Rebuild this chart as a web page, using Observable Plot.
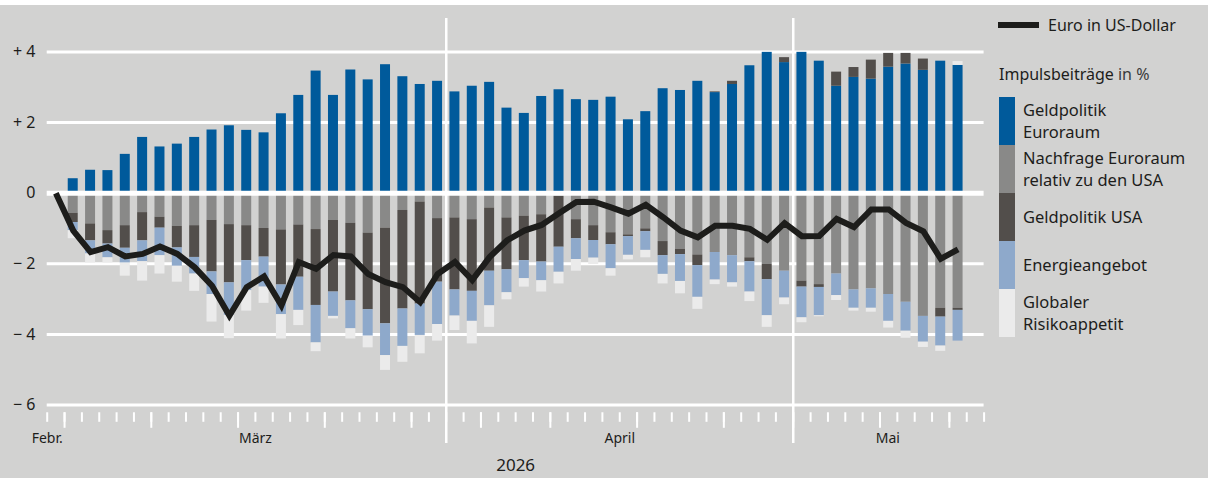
<!DOCTYPE html>
<html>
<head>
<meta charset="utf-8">
<script src="https://cdn.jsdelivr.net/npm/d3@7"></script>
<script src="https://cdn.jsdelivr.net/npm/@observablehq/plot@0.6"></script>
<style>
  html, body { margin: 0; padding: 0; background: #ffffff; }
  #wrap { position: relative; width: 1213px; height: 478px; font-family: "Noto Sans", sans-serif; color: #1d1d1b; }
  #bg { position: absolute; left: 0; top: 5px; width: 1208px; height: 473px; background: #d2d2d1; }
  #chart { position: absolute; left: 0; top: 0; }
  #legend { position: absolute; left: 998px; top: 0; width: 215px; }
  .lline { position: absolute; top: 22px; left: 0; width: 41px; height: 6px; background: #1d1d1b; }
  .ltext { position: absolute; left: 50px; top: 13px; font-size: 16px; line-height: 24px; white-space: nowrap; }
  .lhead { position: absolute; left: 1px; top: 62px; font-size: 16px; line-height: 24px; white-space: nowrap; }
  .lhead .unit { color: #3a3a3a; }
  .items { position: absolute; left: 1px; top: 96.7px; }
  .item { display: flex; align-items: center; height: 48px; }
  .sw { width: 16px; height: 48px; flex: none; }
  .lab { margin-left: 8px; font-size: 16.5px; line-height: 21.5px; white-space: pre; }
</style>
</head>
<body>
<div id="wrap">
  <div id="bg"></div>
  <div id="chart"></div>
  <div id="legend"></div>
</div>
<script>
// ---- data ----
const legendLabels = ["Geldpolitik\nEuroraum", "Nachfrage Euroraum\nrelativ zu den USA", "Geldpolitik USA", "Energieangebot", "Globaler\nRisikoappetit"];
const seriesNames = legendLabels.map(s => s.replace("\n", " "));
const seriesColors = ["#005a9b", "#898988", "#524e4b", "#8ea9cb", "#ebebeb"];

// contributions, one value per trading-day slot 1..52 (in %)
const geldpolitikEuroraum = [0.41,0.65,0.64,1.10,1.58,1.31,1.39,1.58,1.79,1.91,1.78,1.71,2.25,2.77,3.46,2.77,3.49,3.21,3.64,3.30,3.08,3.17,2.87,3.03,3.14,2.41,2.26,2.74,2.93,2.65,2.63,2.72,2.08,2.31,2.96,2.91,3.17,2.85,3.08,3.61,3.99,3.70,3.99,3.74,3.03,3.28,3.23,3.57,3.66,3.48,3.74,3.62];
const nachfrageEuroraum = [-0.57,-0.87,-1.06,-0.92,-0.55,-0.68,-0.94,-0.92,-0.77,-0.89,-0.92,-1.00,-1.04,-0.90,-1.03,-0.77,-0.85,-1.13,-0.99,-0.49,-0.25,-0.72,-0.70,-0.75,-0.42,-0.70,-0.65,-0.61,-0.09,-0.75,-0.92,-1.12,-1.18,-1.01,-1.37,-1.59,-1.75,-1.68,-1.77,-1.83,-2.02,-2.21,-2.49,-2.59,-2.29,-2.74,-2.71,-2.87,-3.09,-3.49,-3.26,-3.26];
const geldpolitikUSA = [-0.26,-0.48,-0.38,-0.64,-0.80,-0.31,-0.61,-0.90,-1.46,-1.65,-0.99,-0.81,-1.56,-1.48,-2.15,-2.03,-2.20,-2.17,-2.71,-2.79,-2.89,-1.80,-2.04,-2.03,-1.79,-1.47,-1.26,-1.34,-1.44,-0.54,-0.42,-0.34,-0.05,-0.08,-0.40,-0.15,-0.30,0.02,0.09,-0.11,-0.43,0.14,-0.17,-0.08,0.40,0.28,0.54,0.39,0.30,0.32,-0.25,-0.06];
const energieangebot = [-0.23,-0.37,-0.39,-0.42,-0.59,-0.78,-0.52,-0.47,-0.64,-0.92,-0.85,-0.85,-0.84,-0.94,-1.06,-0.69,-0.79,-0.75,-0.90,-1.06,-0.89,-1.20,-0.74,-0.85,-0.98,-0.65,-0.51,-0.53,-0.71,-0.59,-0.50,-0.68,-0.53,-0.53,-0.53,-0.76,-0.90,-0.78,-0.77,-0.86,-1.02,-0.76,-0.87,-0.80,-0.61,-0.52,-0.55,-0.76,-0.82,-0.73,-0.82,-0.87];
const globalerRisikoappetit = [-0.23,-0.26,-0.15,-0.37,-0.55,-0.52,-0.45,-0.49,-0.78,-0.66,-0.58,-0.46,-0.69,-0.43,-0.25,-0.07,-0.29,-0.33,-0.42,-0.45,-0.52,-0.47,-0.41,-0.64,-0.61,-0.20,-0.24,-0.32,-0.33,-0.33,-0.18,-0.21,-0.13,-0.21,-0.27,-0.35,-0.34,-0.13,-0.12,-0.27,-0.33,-0.19,-0.14,-0.03,-0.14,-0.08,-0.11,-0.19,-0.20,-0.15,-0.15,0.11];

// Euro in US-Dollar, cumulative change in %, slots 0..52
const euroUsd = [0,-1.06,-1.67,-1.53,-1.79,-1.72,-1.51,-1.72,-2.10,-2.62,-3.47,-2.66,-2.36,-3.18,-1.95,-2.14,-1.75,-1.79,-2.29,-2.52,-2.66,-3.09,-2.29,-1.95,-2.46,-1.81,-1.34,-1.06,-0.90,-0.57,-0.25,-0.24,-0.40,-0.58,-0.33,-0.68,-1.06,-1.25,-0.92,-0.92,-1.01,-1.32,-0.85,-1.22,-1.21,-0.73,-0.96,-0.46,-0.46,-0.84,-1.08,-1.86,-1.59];

// axis definitions (slot boundaries)
const yTicks = [-6, -4, -2, 0, 2, 4];
const dayTicks = d3.range(0, 55);
const weekTicks = [1, 6, 11, 16, 21, 25, 29, 34, 39, 43, 48, 52];
const separators = [23, 43];
const monthLabels = ["Febr.", "März", "April", "Mai"];
const monthPositions = [0, 12, 33, 48.45];
const yearLabel = "2026";
const yearPosition = 27;

// ---- build tables ----
const components = [geldpolitikEuroraum, nachfrageEuroraum, geldpolitikUSA, energieangebot, globalerRisikoappetit];
const bars = [];
geldpolitikEuroraum.forEach((_, j) => {
  components.forEach((arr, s) => bars.push({slot: j + 1, series: seriesNames[s], value: arr[j]}));
});
const line = euroUsd.map((v, i) => ({slot: i, value: v}));
const monthMap = new Map(monthPositions.map((p, i) => [p, monthLabels[i]]));

const yMin = -6, yMax = 5;
const chart = Plot.plot({
  width: 1213,
  height: 478,
  marginLeft: 46.7,
  marginRight: 229.4,
  marginTop: 16.2,
  marginBottom: 73.5,
  style: {background: "transparent", fontFamily: "'Noto Sans', sans-serif", color: "#1d1d1b", overflow: "visible"},
  x: {type: "linear", domain: [0, 54], axis: null, label: null},
  y: {domain: [yMin, yMax], axis: null, label: null},
  color: {domain: seriesNames, range: seriesColors},
  marks: [
    Plot.gridY(yTicks.filter(d => d !== 0), {stroke: "#ffffff", strokeOpacity: 1, strokeWidth: 3}),
    Plot.ruleX(separators, {y1: 4.95, y2: yMin - 1.09, stroke: "#ffffff", strokeOpacity: 1, strokeWidth: 2.5}),
    Plot.ruleX(dayTicks, {y1: yMin - 0.22, y2: yMin - 0.49, stroke: "#ffffff", strokeWidth: 2}),
    Plot.ruleX(weekTicks, {y1: yMin - 0.22, y2: yMin - 0.66, stroke: "#ffffff", strokeWidth: 2}),
    Plot.rectY(bars, {x1: "slot", x2: d => d.slot + 1, y: "value", fill: "series", insetLeft: 3.68, insetRight: 3.68}),
    Plot.ruleY([0], {stroke: "#ffffff", strokeWidth: 5}),
    Plot.line(line, {x: d => d.slot + 0.5, y: "value", stroke: "#1d1d1b", strokeWidth: 6, strokeLinejoin: "miter", strokeMiterlimit: 4, strokeLinecap: "butt"}),
    Plot.axisY(yTicks, {label: null, tickSize: 0, tickPadding: 11.7, fontSize: 16, fill: "#1d1d1b",
      tickFormat: d => d > 0 ? "+ " + d : d < 0 ? "\u2212 " + (-d) : "0"}),
    Plot.axisX(monthPositions, {label: null, tickSize: 0, tickPadding: 28, fontSize: 14, fill: "#1d1d1b",
      tickFormat: d => monthMap.get(d)}),
    Plot.axisX([yearPosition], {label: null, tickSize: 0, tickPadding: 54, fontSize: 17, fill: "#1d1d1b",
      tickFormat: () => yearLabel})
  ]
});
document.getElementById("chart").appendChild(chart);

// ---- legend (HTML, right side) ----
const lg = document.getElementById("legend");
lg.innerHTML = `<div class="lline"></div><div class="ltext">Euro in US-Dollar</div>
<div class="lhead">Impulsbeiträge <span class="unit">in %</span></div>
<div class="items">${legendLabels.map((l, i) =>
  `<div class="item"><div class="sw" style="background:${seriesColors[i]}"></div><div class="lab">${l}</div></div>`).join("")}</div>`;
</script>
</body>
</html>
